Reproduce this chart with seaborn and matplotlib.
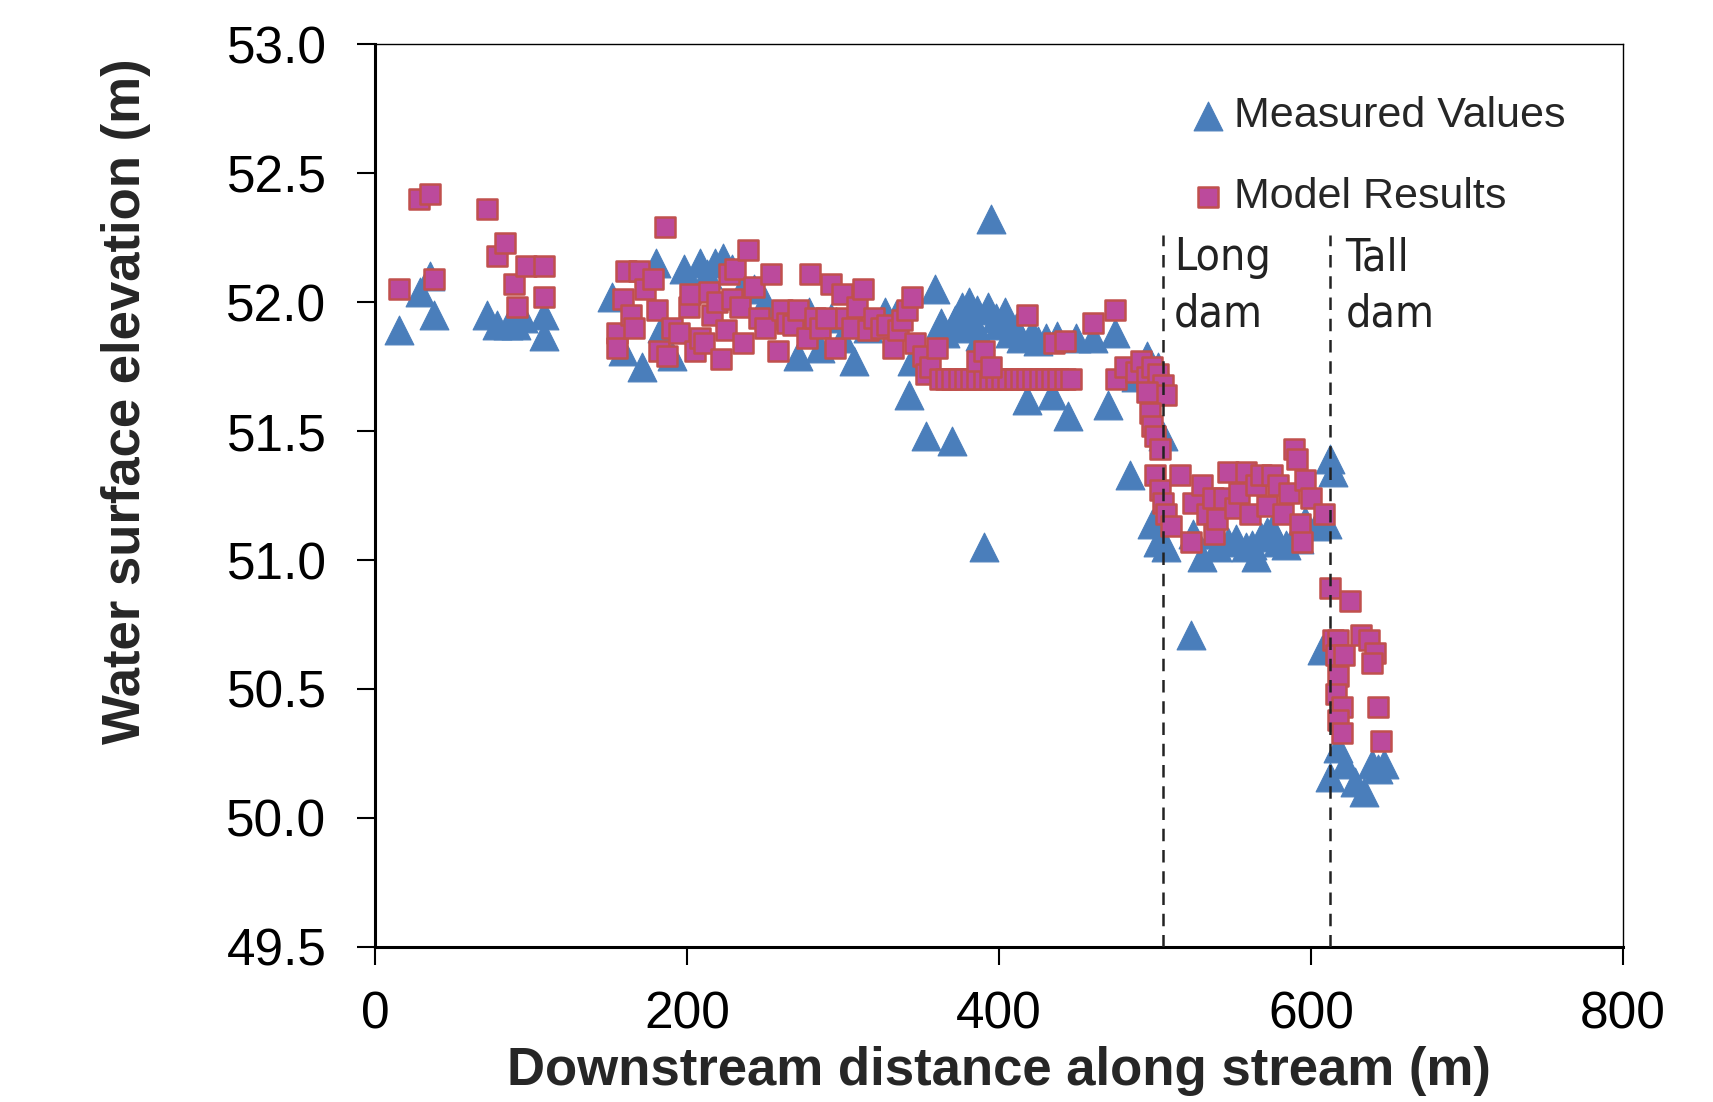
import numpy as np
import pandas as pd
import seaborn as sns
import matplotlib
matplotlib.use("Agg")
import matplotlib.pyplot as plt
from matplotlib import font_manager

# ---------------- data ----------------
measured_x = [15, 29, 35, 38, 72, 78, 85, 90, 95, 108, 108,
              152, 159, 171, 180, 184, 190, 198, 208, 213, 218, 223, 229, 236, 243,
              250, 257, 271, 278, 285, 292, 299, 307, 316, 327, 334, 342, 344, 353,
              359, 363, 370, 376, 381, 386, 390, 393, 395, 398, 404, 411, 418, 421,
              434, 437, 444, 449, 460, 470, 474, 484, 488, 495, 502, 505,
              365, 372, 378, 384, 388, 400, 407, 414, 425, 430,
              498, 502, 507, 523, 524, 530, 537, 547, 558, 565, 572, 579, 589, 596,
              603, 607, 612, 614, 610, 540, 552, 562, 568, 575, 584, 592,
              612, 617, 622, 628, 634, 639, 643, 647]
measured_y = [51.89, 52.04, 52.10, 51.95, 51.95, 51.91, 51.91, 51.91, 51.94, 51.95, 51.87,
              52.02, 51.81, 51.75, 52.15, 51.90, 51.79, 52.13, 52.15, 52.11, 52.15, 52.17, 52.13, 52.06, 52.05,
              52.00, 51.95, 51.79, 51.96, 51.82, 51.94, 51.86, 51.77, 51.90, 51.96, 51.95, 51.64, 51.77, 51.48,
              52.05, 51.92, 51.46, 51.98, 52.00, 51.97, 51.05, 51.98, 52.32, 51.94, 51.96, 51.90, 51.62, 51.88,
              51.64, 51.87, 51.56, 51.86, 51.86, 51.60, 51.88, 51.33, 51.71, 51.79, 51.75, 51.48,
              51.88, 51.93, 51.90, 51.92, 51.87, 51.91, 51.88, 51.86, 51.85, 51.86,
              51.14, 51.07, 51.05, 50.71, 51.10, 51.01, 51.10, 51.07, 51.05, 51.01, 51.11, 51.07, 51.09, 51.15,
              51.13, 50.65, 51.39, 51.34, 51.14, 51.05, 51.08, 51.06, 51.09, 51.12, 51.06, 51.08,
              50.16, 50.27, 50.21, 50.14, 50.10, 50.21, 50.19, 50.21]

model_x = [15, 28, 35, 38, 72, 78, 83, 89, 91, 97, 108, 108,
           155, 155, 159, 161, 164, 166, 169, 173, 178, 181, 182, 186, 187, 190, 195,
           201, 202, 205, 208, 211, 214, 216, 219, 222, 225, 227, 229, 231, 234, 236, 239,
           243, 246, 250, 254, 258, 261, 264, 268, 271, 277, 279, 282, 285, 289, 292, 295,
           299, 302, 306, 309, 313, 316, 320, 324, 328, 332, 335, 338, 341, 344, 346, 351,
           353, 356, 360, 362,
           366, 370, 374, 378, 382, 386, 390, 394, 398, 402, 406, 410, 414, 418, 422, 426,
           430, 434, 438, 442, 446,
           386, 390, 395, 418, 435, 442, 460, 474,
           475, 481, 488, 491, 495, 498, 502, 505, 507, 495, 497, 498, 500, 503, 500, 503, 505, 507,
           510, 516, 523, 524, 530, 533, 537, 538, 540, 544, 547, 551, 554, 558, 561, 565, 568,
           572, 575, 579, 582, 586, 589, 591, 593, 594, 596, 600, 608,
           612, 625, 614, 617, 616, 621, 617, 616, 620, 617, 620, 632, 637, 641, 639, 643, 645]
model_y = [52.05, 52.40, 52.42, 52.09, 52.36, 52.18, 52.23, 52.07, 51.98, 52.14, 52.14, 52.02,
           51.88, 51.82, 52.01, 52.12, 51.95, 51.90, 52.12, 52.05, 52.09, 51.97, 51.81, 52.29, 51.79, 51.90, 51.88,
           51.98, 52.03, 51.81, 51.86, 51.84, 52.04, 51.95, 52.00, 51.78, 51.89, 52.11, 52.01, 52.13, 51.98, 51.84, 52.20,
           52.06, 51.94, 51.90, 52.11, 51.81, 51.97, 51.92, 51.91, 51.97, 51.86, 52.11, 51.94, 51.90, 51.94, 52.07, 51.82,
           52.03, 51.94, 51.90, 51.98, 52.05, 51.89, 51.94, 51.90, 51.91, 51.82, 51.89, 51.93, 51.97, 52.02, 51.84, 51.79,
           51.72, 51.75, 51.82, 51.70,
           51.70, 51.70, 51.70, 51.70, 51.70, 51.70, 51.70, 51.70, 51.70, 51.70, 51.70, 51.70, 51.70, 51.70, 51.70, 51.70,
           51.70, 51.70, 51.70, 51.70, 51.70,
           51.77, 51.81, 51.75, 51.95, 51.84, 51.85, 51.92, 51.97,
           51.70, 51.75, 51.73, 51.77, 51.71, 51.75, 51.72, 51.68, 51.64, 51.65, 51.57, 51.52, 51.48, 51.43, 51.33, 51.27, 51.22, 51.18,
           51.13, 51.33, 51.07, 51.22, 51.29, 51.18, 51.24, 51.10, 51.16, 51.24, 51.34, 51.20, 51.26, 51.34, 51.18, 51.29, 51.33,
           51.21, 51.33, 51.29, 51.18, 51.26, 51.43, 51.39, 51.14, 51.07, 51.31, 51.24, 51.18,
           50.89, 50.84, 50.69, 50.69, 50.63, 50.63, 50.55, 50.48, 50.43, 50.38, 50.33, 50.71, 50.69, 50.64, 50.60, 50.43, 50.30]

dam_x = [505, 612]
dam_labels = ["Long\ndam", "Tall\ndam"]
x_ticks = [0, 200, 400, 600, 800]
y_ticks = [49.5, 50.0, 50.5, 51.0, 51.5, 52.0, 52.5, 53.0]

# ---------------- plot ----------------
sns.set_style("white")
plt.rcParams['font.family'] = ['Liberation Sans', 'DejaVu Sans']

fig = plt.figure(figsize=(17.13, 11.02), dpi=100)
ax = fig.add_axes([0.219, 0.1407, 0.7285, 0.8193])

df_m = pd.DataFrame({"x": measured_x, "y": measured_y})
df_s = pd.DataFrame({"x": model_x, "y": model_y})

sns.scatterplot(data=df_m, x="x", y="y", marker="^", s=430, color="#4A7EBB",
                edgecolor="#4A7EBB", linewidth=0.8, label="Measured Values", ax=ax, zorder=3)
sns.scatterplot(data=df_s, x="x", y="y", marker="s", s=200, color="#BC4A9C",
                edgecolor="#C0504D", linewidth=1.8, label="Model Results", ax=ax, zorder=4)

# dam lines
narrow = 'Liberation Sans Narrow'
avail = {f.name for f in font_manager.fontManager.ttflist}
if narrow in avail:
    lab_kw = dict(family=[narrow, 'DejaVu Sans'])
else:
    lab_kw = dict(family=['DejaVu Sans'], fontstretch='condensed')
for dx, lab, off in zip(dam_x, dam_labels, [7, 10]):
    ax.plot([dx, dx], [49.5, 52.26], color="#222222", linestyle=(0, (5, 3.5)), linewidth=1.8, zorder=5)
    ax.text(dx + off, 52.255, lab, fontsize=32, va="top", ha="left", color="#222222",
            linespacing=1.4, **lab_kw)

ax.set_xlim(0, 800)
ax.set_ylim(49.5, 53.0)
ax.set_xticks(x_ticks)
ax.set_yticks(y_ticks)
ax.set_yticklabels([f"{v:.1f}" for v in y_ticks])
ax.tick_params(axis='both', labelsize=37, length=13, width=1.5, direction='out',
               bottom=True, left=True, colors='black')
ax.tick_params(axis='y', pad=22)
ax.tick_params(axis='x', pad=18)
ax.set_xlabel("Downstream distance along stream (m)", fontsize=38, fontweight='bold', labelpad=5)
ax.set_ylabel("Water surface elevation (m)", fontsize=38, fontweight='bold')
ax.yaxis.set_label_coords(-0.180, 0.605)

for side in ['left', 'bottom']:
    ax.spines[side].set_linewidth(2.2)
    ax.spines[side].set_color('black')
for side in ['top', 'right']:
    ax.spines[side].set_linewidth(1.0)
    ax.spines[side].set_color('black')

leg = ax.legend(loc='upper right', bbox_to_anchor=(0.985, 0.985), frameon=False, fontsize=31,
                handletextpad=0.1, labelspacing=0.95, markerscale=1.0, handlelength=1.0)

fig.savefig("out.png", dpi=100)
